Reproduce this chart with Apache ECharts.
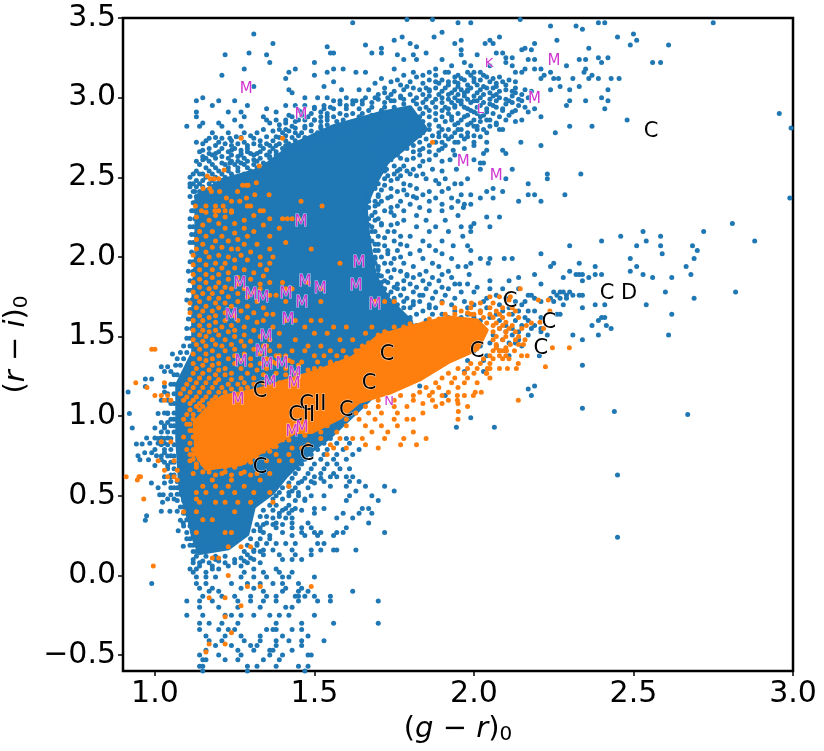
<!DOCTYPE html>
<html>
<head>
<meta charset="utf-8">
<script src="https://cdn.jsdelivr.net/npm/echarts@6/dist/echarts.min.js"></script>
<style>
  html, body { margin: 0; padding: 0; background: #fff; }
  #chart { width: 824px; height: 751px; }
</style>
</head>
<body>
<div id="chart"></div>
<script>
const xTicks = [1.0, 1.5, 2.0, 2.5, 3.0];
const yTicks = [-0.5, 0.0, 0.5, 1.0, 1.5, 2.0, 2.5, 3.0, 3.5];

// the saturated parts of each cloud, too many stars to read one by one: outlines in data units
const blueCore = [[1.13,2.38],[1.21,2.48],[1.33,2.55],[1.43,2.70],[1.558,2.82],[1.70,2.90],[1.80,2.94],[1.85,2.80],[1.78,2.68],[1.73,2.60],[1.69,2.46],[1.66,2.32],[1.67,2.10],[1.69,1.88],[1.73,1.74],[1.80,1.60],[1.84,1.42],[1.549,0.87],[1.50,0.80],[1.41,0.62],[1.37,0.52],[1.31,0.43],[1.29,0.26],[1.23,0.17],[1.14,0.14],[1.12,0.24],[1.11,0.33],[1.08,0.54],[1.07,0.85],[1.07,1.20],[1.12,1.40],[1.12,1.73],[1.13,2.04]];
const orangeCore = [[1.13,0.76],[1.125,0.96],[1.16,1.04],[1.21,1.12],[1.33,1.17],[1.52,1.29],[1.62,1.37],[1.70,1.50],[1.80,1.56],[1.92,1.62],[2.01,1.60],[2.04,1.54],[2.01,1.42],[1.92,1.34],[1.83,1.23],[1.74,1.15],[1.64,1.09],[1.58,0.99],[1.49,0.90],[1.44,0.90],[1.36,0.81],[1.27,0.70],[1.16,0.67]];

// rows of [y, x, x, ...]
const blueTop = [
  [3.49,1.79,1.87,2.145],[3.47,1.62,1.95,1.99,2.39,2.41,2.75],[3.45,2.24,2.32],[3.43,2.34],[3.41,1.90],
  [3.40,1.31,2.50],[3.38,1.775,1.875,2.08,2.45],[3.36,1.75,1.96,2.05,2.26,2.51],[3.34,1.37,1.80,1.94,2.035,2.06,2.19],[3.33,1.66,2.49,2.61],
  [3.32,1.54,1.82],[3.31,1.71,2.16,2.36],[3.30,1.96,2.15,2.18],[3.28,1.295,1.55,1.56,1.68,1.71,1.85,2.07,2.09],[3.27,1.22,1.35,1.76,1.81,1.96,2.01],
  [3.25,2.10,2.12,2.39,2.42],[3.24,1.78,1.82,1.90,2.17,2.19,2.33,2.35],[3.22,1.36,1.50,1.97,2.10,2.40,2.56,2.585],[3.20,1.93,1.99,2.05,2.12,2.29],
  [3.18,1.28,1.44,1.56,1.59,1.75,1.88,2.16,2.19,2.21,2.35],[3.16,1.42,1.54,1.63,1.66,1.81,1.91,1.98,2.02,2.13,2.15,2.24,2.345],[3.14,1.21,1.50,1.84,1.95,2.03,2.22,2.37],
  [3.12,1.41,1.71,1.96,2.00,2.06,2.21,2.25,2.265,2.31,2.36,2.39,2.43,2.455],[3.10,1.56,1.74,1.88,1.92,2.09,2.13],[3.07,1.31,1.53,1.79,1.95,2.03,2.07,2.27,2.33],
  [3.05,1.42,1.585,1.64,1.67,1.86,1.98,2.10,2.16,2.24,2.30,2.42],[3.03,1.43,1.72,1.93,1.97,2.01,2.05,2.13],[3.00,1.15,1.47,1.51,1.54,1.69,1.77,2.08,2.17,2.40],
  [2.98,1.13,1.20,1.25,1.58,1.62,1.65,1.74,1.96,2.00,2.11,2.15,2.30,2.35,2.42],[2.95,1.18,1.29,1.41,1.44,1.47,1.53,1.60,1.94,2.02,2.06,2.14,2.29],[2.93,1.35,1.50,1.56,1.92,1.98,2.09,2.19,2.41],
  [2.91,1.13,1.23,1.27,1.38,1.52,1.46,2.00,2.04,2.12,2.17],[2.88,1.13,1.28,1.34,1.43,1.48,1.54,1.93,1.97,2.02,2.21],[2.86,1.25,1.35,1.38,1.45,1.50,2.05,2.10,2.15,2.48],
  [2.84,1.15,1.20,1.41,1.36,1.95,1.99,2.07],[2.82,1.10,1.14,1.21,1.27,1.43,1.47,2.01,2.30,2.37],[2.80,1.34,1.41,1.39,1.90,1.95,2.03,2.09],
  [2.78,1.18,1.32,1.44,2.255],[2.755,1.255,1.35,1.38,1.89,1.93,1.98,2.02],[2.745,1.17,1.21,1.235,1.31],[2.72,1.13,1.20,1.28,1.90,1.94,2.04,2.147],
  [2.70,1.29,1.33,1.36,2.00,2.21],[2.67,1.24,1.15,1.27,1.76,1.83,1.89,1.935,2.04,2.09],[2.65,1.17,1.19,1.27,1.30,1.32,2.03,2.10],
  [2.63,1.15,1.21,1.26,1.36],[2.61,1.15,1.31,1.705,1.74,1.79,1.86,1.925,2.00],[2.59,1.21,1.235,1.27,1.34,2.02,2.03],
  [2.55,1.695,1.726,1.768,1.81,1.87,1.945,2.02,2.12],[2.52,1.12,1.15,1.75,1.80,1.84,2.23,2.335],[2.49,1.72,1.76,1.85,1.91,1.98,2.10,2.23],
  [2.46,1.11,1.70,1.78,1.89,1.94,1.96,2.17],[2.43,1.69,1.74,1.82,1.92,2.06],[2.41,1.125,1.76,1.86,1.90,2.04,2.09],[2.39,1.70,1.79,1.84,1.96,1.99,2.17,2.19,2.285],
  [2.37,1.73,1.82,1.88,1.93,2.02,2.06,2.99],[2.35,1.67,1.77,1.86,1.95,2.14,2.21],[2.33,1.70,1.80,1.90,1.97,1.99],[2.31,1.67,1.74,1.83,1.93,1.967]
];
const blueMiddle = [
  [2.90,2.957],[2.81,2.994],
  [2.29,1.72,1.78,1.86,1.90],[2.26,1.68,1.75,1.82,1.95],[2.25,2.04,2.08],[2.23,1.69,1.78,1.85,1.91],[2.21,1.71,1.76,2.00,2.81],[2.19,1.68,1.82,1.88,1.96,1.99,2.05],
  [2.16,1.73,1.86,1.92,1.99,2.53,2.72],[2.13,1.70,1.77,1.80,1.965,2.46,2.585],[2.10,1.68,1.75,1.84,1.90,2.40,2.54,2.88],[2.07,1.72,1.79,1.86,1.935,1.98,2.30,2.51,2.585,2.685],
  [2.04,1.70,1.76,1.83,1.88,1.99,2.70],[2.02,1.73,1.80,1.90,2.21,2.59],[1.99,1.69,1.75,1.84,1.93,2.02,2.05,2.095,2.12,2.49,2.69],[1.96,1.72,1.78,1.87,2.045,1.99,2.25,2.33],
  [1.94,1.70,1.81,1.89,1.95,1.975,2.24,2.38,2.51,2.665],[1.91,1.73,1.77,1.85,1.92,2.30,2.49],[1.89,1.70,1.79,1.83,1.90,1.985,2.19,2.32,2.33,2.34,2.38,2.40,2.53,2.68],
  [1.87,1.74,1.81,1.87,1.93,2.14,2.28,2.36,2.56,2.62],[1.85,1.72,1.78,1.84,1.89,2.05,2.11,2.34],[1.83,1.76,1.80,1.86,1.94,1.955,1.98,2.21],[1.81,1.71,1.75,1.82,1.90,2.01],
  [1.80,1.78,1.85,1.92,2.05,2.09,2.14],[1.78,1.74,1.81,1.88,1.96,2.00,2.25,2.27,2.28,2.30,2.60,2.82],[1.76,1.77,1.84,1.91,2.07,2.17,2.18,2.26,2.29,2.31,2.33,2.34],
  [1.74,1.75,1.79,1.87,1.94,2.04,2.10,2.19,2.24,2.27,2.29,2.69],[1.72,1.78,1.83,1.90,1.97,2.03,2.13,2.16,2.21,2.25],[1.70,1.76,1.81,1.86,1.93,2.00,2.08,2.15,2.28,2.38,2.41,2.54],
  [1.68,1.80,1.88,1.98,2.04,2.11,2.34],[1.66,1.84,1.94,2.02,2.09,2.14,2.17,2.19],[1.64,1.90,1.98,2.07,2.12,2.26,2.27,2.62],[1.62,1.96,2.05,2.16,2.21,2.40,2.41],
  [1.60,2.02,2.08,2.13,2.17,2.39],[1.57,2.10,2.15,2.19,2.37,2.415],[1.55,2.08,2.12,2.18,2.21,2.43],[1.53,2.03,2.10,2.14,2.21],[1.51,2.06,2.12,2.17,2.23,2.31,2.39,2.61],
  [1.48,2.00,2.09,2.14,2.34],[1.46,2.05,2.11,2.13],[1.44,2.02,2.07,2.15],[1.41,2.00,2.08,2.10],[1.38,2.04,2.11,2.205],[1.35,1.98,2.03],[1.32,2.34],[1.28,1.97,2.03],
  [1.19,2.19,1.83],[1.17,2.17],[1.13,2.18,1.91],[1.05,2.34],[1.03,2.44],[1.01,2.67],[0.99,1.99],[0.93,1.945,2.064],[0.63,2.45],[0.24,2.45]
];
const blueLower = [
  [1.39,1.055],[1.31,1.02,1.04],[1.28,1.05,1.03],[1.233,0.99,0.97],[1.187,0.97,1.03],[1.152,0.916,1.03],[1.10,1.04,1.02],[1.016,0.92,1.01,1.04],[0.96,1.02,1.04],[0.926,0.929,1.00,1.03],
  [0.863,0.974,1.00,1.02,1.04],[0.83,0.984,1.01,1.03],[0.825,0.942,0.96],[0.77,0.968,0.99,1.03],[0.752,0.947,1.005,1.05],[0.727,0.953,0.98,1.02],[0.69,1.00,1.04],[0.62,1.03,1.05],
  [0.58,0.989,1.03],[0.55,1.01,1.05],[0.507,1.015,1.026,1.05],[0.48,1.04,1.06],[0.459,1.024],[0.403,1.02,1.047,1.07],[0.375,0.974],[0.346,0.97,1.08],[0.33,1.089],[0.281,1.073],[0.183,1.089],
  [0.62,1.60,1.62,1.50,1.55,1.57],[0.59,1.46,1.49,1.53,1.61,1.64],[0.56,1.42,1.55,1.60,1.66,1.72],[0.53,1.43,1.63,1.75],[0.50,1.38,1.42,1.45,1.49,1.53,1.68,1.61],[0.47,1.44,1.47,1.60,1.70],
  [0.42,1.41,1.44,1.50,1.53,1.65,1.67],[0.39,1.39,1.42,1.50,1.64,1.68,1.59],[0.36,1.37,1.41,1.43,1.57,1.62],[0.33,1.35,1.38,1.48,1.43,1.67],[0.30,1.33,1.38,1.49,1.43,1.46,1.60],[0.27,1.34,1.40,1.50,1.46,1.52,1.57,1.59,1.72],
  [0.25,1.36,1.43,1.47,1.51,1.56],[0.20,1.32,1.35,1.38,1.41,1.44,1.51,1.53],[0.16,1.31,1.34,1.37,1.43,1.49,1.56,1.52,1.57,1.63],[0.13,1.29,1.34,1.39,1.44,1.49],[0.10,1.12,1.19,1.25,1.31,1.40,1.43,1.46],
  [0.08,1.12,1.14,1.17,1.22,1.25,1.29,1.33],[0.04,1.11,1.13,1.18,1.20,1.31,1.38],[0.02,1.12,1.16,1.28,1.34,1.39,1.43],[-0.01,1.13,1.16,1.19,1.27,1.31,1.35,1.50,1.42,1.40],[-0.05,1.13,1.16,1.24,1.29,1.33,1.37,1.40,1.45,0.99],
  [-0.08,1.14,1.18,1.27,1.31,1.41,1.46],[-0.10,1.17,1.20,1.34,1.40,1.45,1.48,1.62],[-0.13,1.15,1.21,1.25,1.30,1.35,1.38,1.44,1.47,1.50,1.55,1.45],[-0.16,1.10,1.14,1.18,1.26,1.30,1.34,1.38,1.45,1.51,1.55,1.70],
  [-0.20,1.14,1.20,1.26,1.33,1.43,1.41],[-0.25,1.10,1.15,1.22,1.24,1.27,1.31,1.36,1.39,1.42,1.50],[-0.30,1.14,1.17,1.21,1.26,1.38,1.46,1.56,1.70],[-0.34,1.14,1.20,1.23,1.25,1.35,1.43,1.38,1.37,1.46],
  [-0.38,1.16,1.22,1.27,1.33,1.40,1.48],[-0.41,1.17,1.21,1.28,1.33,1.38,1.42,1.46,1.53],[-0.44,1.19,1.24,1.30,1.32,1.38,1.46],[-0.47,1.16,1.26,1.31,1.43,1.36,1.37],[-0.50,1.14,1.20,1.27,1.36,1.40,1.48,1.49],
  [-0.53,1.15,1.16,1.22,1.26,1.34,1.39],[-0.57,1.14,1.15,1.29,1.32,1.38,1.45,1.48],[-0.60,1.15,1.29,1.47]
];
// the crowded edges of the upper cloud
const blueShoulder = [
  [2.81,1.44,1.47,1.52,1.56],[2.79,1.37,1.42,1.49,1.53,1.58],[2.78,1.23,1.28,1.40,1.46,1.51,1.55,1.60],[2.76,1.30,1.41,1.45,1.50,1.56],[2.75,1.19,1.27,1.39,1.43,1.47,1.53,1.55],
  [2.73,1.16,1.24,1.33,1.37,1.41,1.44,1.50],[2.71,1.15,1.22,1.26,1.31,1.35,1.39,1.42,1.47],[2.70,1.19,1.24,1.38,1.41,1.45],[2.68,1.17,1.21,1.25,1.29,1.34,1.37,1.40],[2.66,1.14,1.20,1.23,1.29,1.33,1.36,1.38,1.41],
  [2.64,1.18,1.24,1.27,1.31,1.35,1.38],[2.62,1.16,1.19,1.23,1.28,1.33,1.36,1.39],[2.60,1.13,1.17,1.24,1.26,1.29,1.32,1.37],[2.58,1.14,1.18,1.22,1.25,1.28,1.31,1.35],[2.56,1.16,1.19,1.23,1.26,1.29,1.32],
  [2.54,1.13,1.17,1.20,1.23,1.26,1.30,1.33],[2.52,1.14,1.18,1.21,1.24,1.28,1.31],[2.50,1.11,1.16,1.19,1.22,1.25,1.28],[2.48,1.13,1.15,1.18,1.21,1.23,1.26],[2.46,1.12,1.14,1.17,1.19,1.22],
  [2.44,1.11,1.13,1.15,1.18,1.20],[2.41,1.12,1.14,1.16],[2.38,1.11,1.13],[2.34,1.12,1.125],[2.29,1.115,1.12],[2.24,1.11,1.125],[2.19,1.12,1.11],[2.14,1.115,1.125],[2.09,1.11,1.12],[2.03,1.115],[1.97,1.11,1.12],[1.91,1.105,1.12],[1.85,1.11,1.12],[1.79,1.105,1.115],[1.73,1.10,1.115],[1.67,1.11],[1.61,1.105,1.115],[1.55,1.10,1.115],[1.49,1.10,1.11],[1.44,1.09,1.11],[1.40,1.08,1.10],[1.36,1.07,1.09],[1.32,1.065,1.08],[1.26,1.06,1.07]
];
const blueArm = [
  [3.16,1.86,1.92,2.00],[3.14,1.78,1.88,1.99],[3.13,1.82,1.94,2.04,2.08],[3.11,1.76,1.86,1.90,1.97,2.02,2.11],[3.10,1.80,1.94,2.00,2.05],[3.09,1.69,1.84,1.89,1.95,2.07],[3.08,1.77,1.92,1.98,2.01,2.10],
  [3.06,1.72,1.81,1.85,1.88,1.91,1.99,2.04,2.06,2.13],[3.05,1.78,1.83,1.94,1.96,2.02],[3.04,1.75,1.86,1.90,1.98,2.08,2.12,2.18],[3.02,1.70,1.74,1.80,1.84,1.89,1.92,1.95,2.03,2.07,2.15],[3.01,1.77,1.86,1.97,2.00,2.06,2.12],
  [3.00,1.60,1.66,1.73,1.82,1.90,1.94,2.02],[2.99,1.70,1.78,1.85,1.88,1.92,1.98,2.05,2.10,2.14],[2.98,1.56,1.63,1.75,1.81,1.95,2.01,2.07],[2.97,1.68,1.72,1.84,1.87,1.90,1.93,1.99,2.03,2.12],
  [2.96,1.58,1.62,1.65,1.78,1.82,1.96,2.05,2.10],[2.94,1.50,1.55,1.68,1.72,1.75,1.85,1.88,1.91,1.94,1.97,2.01,2.07,2.16],[2.93,1.53,1.60,1.64,1.79,1.83,2.04],[2.92,1.45,1.67,1.71,1.75,1.86,1.90,1.99,2.09,2.13],
  [2.90,1.49,1.54,1.58,1.62,1.65,1.84,1.88,1.92,1.95,2.01,2.06],[2.89,1.42,1.46,1.60,1.68,1.74,1.79,1.98,2.03,2.11],[2.88,1.52,1.56,1.64,1.71,1.83,1.86,1.90,2.08],[2.86,1.41,1.47,1.50,1.54,1.59,1.66,1.82,1.88,1.93,1.96,2.00,2.04],
  [2.85,1.44,1.52,1.57,1.62,1.84,1.91,2.02,2.13],[2.83,1.39,1.49,1.54,1.81,1.86,1.94,1.98,2.07],[2.82,1.52,1.80,1.84,1.89,2.00,2.05],[2.80,1.78,1.82,1.86,1.92,1.96,2.01,2.08],
  [2.78,1.76,1.80,1.84,1.89,1.94,1.98,2.04],[2.76,1.74,1.78,1.83,1.87,1.91,1.96,2.00],[2.74,1.72,1.76,1.80,1.85,1.92,1.97],[2.72,1.70,1.75,1.79,1.83,1.88,1.95,2.00],[2.70,1.69,1.73,1.77,1.81,1.86,1.91],
  [2.68,1.72,1.79,1.84,1.90,1.97],[2.66,1.74,1.81,1.86],[2.64,1.71,1.76,1.83,1.88,1.94],[2.62,1.72,1.77,1.81],[2.60,1.73,1.84,1.90],
  [2.57,1.71,1.75,1.78,1.83],[2.54,1.72,1.76,1.79,1.90],[2.51,1.70,1.73,1.77,1.82],[2.48,1.69,1.74,1.88],[2.45,1.69,1.72,1.80],[2.42,1.67,1.71,1.78],[2.38,1.67,1.70,1.74,1.81],[2.35,1.66,1.69,1.71],
  [2.32,1.66,1.69,1.76],[2.28,1.66,1.69,1.74],[2.24,1.67,1.70],[2.20,1.67,1.71,1.74],[2.16,1.68,1.69,1.75],[2.12,1.67,1.72],[2.08,1.69,1.70,1.77],[2.04,1.69,1.73],[2.00,1.69,1.71,1.77],[1.96,1.69,1.74],[1.92,1.70,1.75],[1.88,1.70,1.71,1.79],[1.84,1.71,1.73],[1.80,1.72,1.76],[1.76,1.73,1.83],[1.72,1.75,1.81],[1.68,1.74,1.78,1.86],[1.64,1.77,1.82,1.87],[1.60,1.80,1.85,1.91,1.97],[1.57,1.82,1.88,1.93,2.01],[1.54,1.96,2.02],[1.62,1.80,1.92,2.00]
];
const blueBase = [
  [1.20,1.05,1.06],[1.14,1.04,1.06],[1.08,1.05,1.06],[1.02,1.04,1.06,1.03],[0.98,1.05,1.06],[0.94,1.03,1.05,1.06],[0.90,1.02,1.04,1.06],[0.86,1.01,1.03,1.05],[0.82,1.02,1.04,1.06],[0.79,1.00,1.03,1.05],[0.75,1.02,1.04,1.06],[0.71,1.03,1.05,1.06],[0.67,1.04,1.06],[0.63,1.05,1.06],[0.59,1.05,1.07],[0.55,1.06,1.07],[0.51,1.07,1.08],[0.47,1.07,1.09],[0.43,1.08,1.09],[0.39,1.09,1.10],[0.35,1.10,1.11],[0.31,1.09,1.11],[0.27,1.10,1.12],[0.23,1.11,1.10],[0.19,1.12,1.11],[0.15,1.12,1.13],[0.12,1.13,1.16,1.19,1.22],
  [0.09,1.15,1.20,1.28],[0.06,1.14,1.18,1.23,1.27],[0.11,1.27,1.30],[0.15,1.28,1.31,1.33],[0.19,1.29,1.32],[0.23,1.30,1.33,1.36],[0.28,1.31,1.33],[0.32,1.32,1.34,1.37,1.40],[0.37,1.33,1.35,1.39],[0.41,1.34,1.37,1.40,1.43,1.46],[0.44,1.36,1.38,1.42],[0.48,1.37,1.40,1.47],[0.52,1.39,1.42,1.45],[0.55,1.40,1.44,1.48],[0.58,1.42,1.45,1.50],[0.61,1.43,1.47,1.52],[0.64,1.44,1.48,1.52,1.56],[0.67,1.45,1.49,1.53,1.58,1.61],[0.70,1.46,1.50,1.54,1.57],[0.73,1.47,1.52,1.56,1.60],[0.76,1.49,1.53,1.57,1.62],[0.79,1.51,1.54,1.59,1.64],[0.83,1.53,1.57,1.61],[0.86,1.55,1.60]
];

const orangeLeft = [
  [2.745,1.27,1.40],[2.72,1.87],[2.57,1.327],[2.546,1.217],[2.508,1.164],[2.49,1.186,1.20,1.174],[2.466,1.318],[2.45,1.292,1.275,1.287],[2.43,1.172,1.151],[2.41,1.259,1.177,1.203],[2.39,1.358,1.313],
  [2.37,1.224,1.287],[2.35,1.458,1.266,1.24],[2.32,1.524,1.214,1.19,1.16,1.127,1.29,1.30],[2.29,1.146,1.188,1.20,1.22,1.24,1.34,1.33],[2.24,1.36,1.40,1.415,1.43,1.45],
  [2.18,1.39],[2.13,1.36],[2.09,1.41],[2.05,1.36,1.49],[2.00,1.33,1.37],[1.96,1.36,1.58],[1.92,1.35],[1.88,1.34],[1.84,1.36,1.40,1.48],[1.80,1.33,1.41,1.43,1.52],
  [1.76,1.36,1.38],[1.72,1.41,1.52,1.69,1.72,1.75],[1.68,1.34],[1.64,1.35,1.37],[1.60,1.34,1.41,1.44,1.49,1.52],[1.56,1.37,1.47,1.56,1.60,1.68],[1.52,1.39,1.50,1.54,1.66,1.73],[1.48,1.36,1.44,1.58,1.62,1.71],
  [1.44,1.35,1.39,1.48,1.52,1.65,1.68],[1.41,1.43,1.47,1.55,1.59,1.63,1.70],[1.38,1.38,1.41,1.50,1.53,1.57],[1.34,1.37,1.43,1.46,1.51,1.55]
];
const orangeCrowd = [
  [2.28,1.16,1.24],[2.26,1.19,1.31],[2.25,1.13,1.22],[2.23,1.17,1.28],[2.21,1.20,1.25],[2.20,1.15,1.34],[2.18,1.22,1.28],[2.16,1.14,1.18,1.31],[2.15,1.25],[2.13,1.21,1.16,1.29],[2.11,1.13,1.26],[2.10,1.19,1.23],[2.08,1.15,1.28,1.32],[2.06,1.21,1.18],[2.05,1.13,1.26,1.24],[2.03,1.16,1.30],[2.01,1.20,1.12,1.27],[2.00,1.23,1.17],[1.98,1.14,1.29,1.25],[1.96,1.19,1.22],[1.95,1.16,1.33,1.12],[1.93,1.25,1.21],[1.92,1.14,1.18,1.28],[1.90,1.23,1.31],[1.89,1.12,1.16,1.20],[1.87,1.26,1.18],[1.86,1.14,1.23,1.30],[1.84,1.16,1.20,1.12],[1.83,1.26,1.33],[1.81,1.14,1.19,1.22],[1.80,1.17,1.28,1.24],[1.78,1.12,1.21,1.31],[1.77,1.15,1.26,1.18],[1.75,1.13,1.23,1.29],[1.74,1.17,1.20],[1.72,1.14,1.26,1.32],[1.71,1.11,1.19,1.22],[1.69,1.16,1.24,1.29],[1.68,1.13,1.20],[1.66,1.18,1.27,1.15],[1.65,1.22,1.31,1.11],[1.63,1.14,1.19,1.25],[1.62,1.17,1.29],[1.60,1.12,1.22,1.26,1.15],[1.59,1.19,1.32],[1.57,1.14,1.24,1.17],[1.56,1.21,1.28],[1.54,1.12,1.15,1.19,1.25,1.31],[1.53,1.23,1.17],[1.51,1.14,1.20,1.28],[1.50,1.16,1.25,1.33],[1.48,1.12,1.22,1.18],[1.47,1.15,1.27,1.30],[1.45,1.19,1.24,1.13],[1.44,1.16,1.21,1.34,1.28],[1.42,1.14,1.25,1.31],[1.41,1.18,1.22,1.36],[1.39,1.12,1.16,1.28,1.33],[1.38,1.20,1.25,1.39],[1.36,1.14,1.18,1.23,1.30,1.35],[1.35,1.16,1.27,1.42],[1.33,1.12,1.20,1.25,1.33,1.38],[1.32,1.15,1.18,1.30,1.45],[1.30,1.13,1.22,1.27,1.35,1.41],[1.29,1.17,1.20,1.32,1.48],[1.27,1.12,1.15,1.24,1.29,1.38,1.44],[1.26,1.19,1.22,1.34,1.41],[1.24,1.14,1.17,1.27,1.31,1.37,1.47],[1.23,1.11,1.20,1.24,1.43],[1.21,1.13,1.16,1.19,1.28,1.34,1.39],[1.20,1.10,1.23,1.26,1.31],[1.18,1.12,1.15,1.18,1.21,1.29,1.36],[1.17,1.09,1.24,1.27],[1.15,1.11,1.14,1.17,1.20,1.22,1.30],[1.14,1.08,1.25],[1.12,1.10,1.13,1.16,1.19],[1.10,1.12,1.15,1.18,1.09],[1.08,1.11,1.14,1.17],[1.06,1.13,1.15],[1.04,1.11,1.14],[1.01,1.12,1.10],[0.98,1.09,1.12],[0.95,1.11,1.10],[0.91,1.11,1.12],[0.87,1.09,1.12],[0.83,1.11,1.13],[0.79,1.10,1.12],[0.76,1.12,1.11],[0.73,1.12,1.14],[0.70,1.13,1.15,1.19],[0.68,1.13,1.18,1.22,1.25],[0.65,1.15,1.17,1.22,1.28],[0.63,1.19,1.24,1.30],
  [0.71,1.30,1.28],[0.74,1.32,1.30],[0.78,1.34,1.36],[0.81,1.38,1.37],[0.85,1.40,1.42],[0.88,1.42,1.47],[1.30,1.50,1.52],[1.33,1.55,1.57],[1.37,1.60,1.64],[1.41,1.64,1.67],[1.46,1.67,1.70],[1.51,1.70,1.73],[1.53,1.72,1.76],[1.56,1.75,1.78],[1.58,1.80,1.84],[1.61,1.86,1.89],[1.64,1.91,1.94,1.99],[1.65,1.98,2.02]
];
const orangeFar = [
  [1.42,0.99,1.00],[1.21,0.94,1.03],[1.18,0.975],[1.13,1.00,1.02,1.04],[1.10,1.05,1.03],[0.84,1.02,1.05],[0.72,1.01,1.06],[0.66,1.03,1.07],[0.62,0.91,0.955,0.95,1.04,1.06],[0.60,0.945,1.07],[0.48,0.965,1.13],
  [0.40,1.09,1.13,1.25],[0.35,1.15,1.18],[0.06,0.995],[0.00,1.23],[0.11,1.18,1.20],[0.18,1.23,1.27,1.30],[0.27,1.13,1.22,1.24],[-0.07,1.29,1.33,1.49],[-0.14,1.17,1.22],[-0.19,1.27],[-0.26,1.22],
  [-0.36,1.24],[-0.43,1.22,1.17],[-0.48,1.16],[0.46,1.14,1.19,1.22,1.26,1.30,1.37],[0.52,1.13,1.16,1.21,1.25,1.31,1.36],[0.56,1.15,1.19,1.23,1.28,1.42],[0.60,1.18,1.24,1.33],[0.64,1.12,1.21,1.27,1.32,1.36],
  [0.72,1.11,1.35,1.39,1.43],[0.76,1.38,1.42,1.54],[0.80,1.43,1.46,1.56,1.60,1.70],[0.82,1.48,1.55,1.66,1.77,1.82],[0.86,1.52,1.58,1.62,1.65,1.72,1.78,1.85],[0.90,1.52,1.57,1.68,1.73,1.81],[0.94,1.54,1.60,1.66,1.71,1.76],
  [0.98,1.60,1.64,1.69,1.75,1.79,1.81,1.95],[1.02,1.63,1.67,1.71,1.76,1.84],[1.03,1.951],[1.06,1.66,1.70,1.75,1.79,1.88,1.98],[1.08,1.84,1.90,1.95],[1.10,1.70,1.75,1.81,1.87,1.92,1.948,2.139],
  [1.13,1.77,1.81,1.86,1.90,1.97,1.948,1.998],[1.15,1.83,1.87,1.92,2.004,2.023],[1.18,1.85,1.89,1.95],[1.21,1.88,1.93,1.97,2.01],[1.24,1.90,1.94,1.98,2.05],[1.27,1.92,1.97,2.00,2.039,2.04],[1.30,1.95,1.98,2.01,2.05,2.08,2.105,2.133,2.042],
  [1.31,2.224],[1.33,1.99,2.02,2.05,2.139],[1.36,2.03,2.06,2.09,2.11],[1.38,2.05,2.08,2.167,2.149,2.10],[1.41,2.06,2.09,2.127,2.102,2.08],[1.43,2.246,2.299,2.07,2.10],[1.45,2.07,2.114,2.155,2.14],
  [1.48,2.06,2.09,2.13,2.16],[1.50,2.07,2.10,2.14],[1.53,2.06,2.10,2.13],[1.55,2.08,2.11,2.15,2.218],[1.57,2.06,2.09,2.12,2.164],[1.585,2.04,2.07,2.18],[1.59,2.207,2.10],[1.62,2.03,2.06,2.09,2.14],
  [1.64,2.00,2.05,2.08,2.11],[1.66,1.96,2.02,2.07,2.13,2.238],[1.68,1.94,1.99,2.05,2.09,2.12],[1.71,1.992,2.02,2.06,1.90],[1.73,2.233,2.202,2.11],[1.75,2.114,2.05,2.08],[1.80,2.145]
];

// spectral types written on the plot, [x, y, text]
const blackLabels = [[2.555,2.80,'C'],[2.113,1.73,'C'],[2.235,1.60,'C'],[2.21,1.44,'C'],[2.417,1.78,'C'],[2.486,1.78,'D'],[2.01,1.417,'C'],[1.728,1.40,'C'],[1.671,1.22,'C'],[1.60,1.05,'C'],[1.495,1.085,'CII'],[1.46,1.016,'CII'],[1.33,1.166,'C'],[1.477,0.77,'C'],[1.33,0.69,'C']];
const magentaLabels = [[1.286,3.067,'M'],[1.458,2.90,'M'],[2.251,3.243,'M'],[2.19,3.004,'M'],[1.966,2.61,'M'],[2.07,2.52,'M'],[1.458,2.233,'M'],[1.64,1.976,'M'],[1.267,1.84,'M'],[1.301,1.775,'M'],[1.339,1.756,'M'],[1.411,1.78,'M'],[1.47,1.856,'M'],[1.518,1.812,'M'],[1.63,1.83,'M'],[1.69,1.712,'M'],[1.461,1.725,'M'],[1.417,1.618,'M'],[1.239,1.643,'M'],[1.348,1.51,'M'],[1.333,1.417,'M'],[1.27,1.35,'M'],[1.351,1.336,'M'],[1.398,1.342,'M'],[1.439,1.279,'M'],[1.436,1.216,'M'],[1.361,1.223,'M'],[1.26,1.116,'M'],[1.43,0.915,'M'],[1.461,0.94,'M']];
const magentaSmall = [[2.047,3.224,'K'],[2.02,2.94,'L'],[1.734,1.104,'N']];

const BLUE = '#1f77b4';
const ORANGE = '#ff7f0e';
const FONT = '"DejaVu Sans"';

const fromRows = (rows) => rows.flatMap((row) => row.slice(1).map((x) => [x, row[0]]));

const cloudSeries = (outline, color, z) => ({
  type: 'custom',
  z,
  silent: true,
  clip: true,
  data: [0],
  renderItem: (params, api) => ({
    type: 'polygon',
    shape: { points: outline.map((p) => api.coord(p)) },
    style: { fill: color, stroke: color, lineWidth: 4, lineJoin: 'round' }
  })
});

const pointSeries = (rows, color, z) => ({
  type: 'scatter',
  z,
  silent: true,
  symbolSize: 5,
  itemStyle: { color, opacity: 1 },
  data: fromRows(rows)
});

const labelSeries = (data, color, size) => ({
  type: 'scatter',
  z: 10,
  silent: true,
  symbolSize: 0,
  itemStyle: { opacity: 1 },
  data,
  label: {
    show: true,
    position: 'inside',
    offset: [0, 2],
    formatter: (p) => p.value[2],
    color,
    opacity: 1,
    fontFamily: FONT,
    fontSize: size,
    textBorderColor: 'rgba(255,255,255,0.7)',
    textBorderWidth: 1
  }
});

const axisBase = {
  type: 'value',
  nameLocation: 'middle',
  splitLine: { show: false },
  axisLine: { show: false, onZero: false },
  axisTick: { length: 5, lineStyle: { color: '#000', width: 1.5 } }
};

const tickFormat = (v) => v.toFixed(1).replace('-', '\u2212');
const axisName = (a, b) => `{p|(}{i|${a}}{p| \u2212 }{i|${b}}{p|)}{s|0}`;
const nameRich = {
  p: { fontFamily: FONT, fontSize: 29, color: '#000' },
  i: { fontFamily: FONT, fontSize: 29, fontStyle: 'italic', color: '#000' },
  s: { fontFamily: FONT, fontSize: 20, color: '#000', verticalAlign: 'bottom', padding: [12, 0, 0, 0] }
};

const chart = echarts.init(document.getElementById('chart'), null, { renderer: 'canvas' });
chart.setOption({
  animation: false,
  backgroundColor: '#fff',
  grid: { left: 123, right: 31, top: 18, bottom: 80, show: true, borderColor: '#000', borderWidth: 2.5, backgroundColor: 'transparent', outerBoundsMode: 'none' },
  xAxis: {
    ...axisBase,
    min: 0.9,
    max: 3.0,
    name: axisName('g', 'r'),
    nameGap: 42,
    nameTextStyle: { rich: nameRich },
    axisTick: { ...axisBase.axisTick, customValues: xTicks },
    axisLabel: { customValues: xTicks, formatter: tickFormat, fontFamily: FONT, fontSize: 30, color: '#000', margin: 8, hideOverlap: false }
  },
  yAxis: {
    ...axisBase,
    min: -0.6,
    max: 3.5,
    name: axisName('r', 'i'),
    nameGap: 84,
    nameTextStyle: { rich: nameRich },
    axisTick: { ...axisBase.axisTick, customValues: yTicks },
    axisLabel: { customValues: yTicks, formatter: tickFormat, fontFamily: FONT, fontSize: 30, color: '#000', margin: 7, padding: [2, 0, 0, 0], hideOverlap: false }
  },
  series: [
    cloudSeries(blueCore, BLUE, 2),
    pointSeries(blueTop, BLUE, 2),
    pointSeries(blueMiddle, BLUE, 2),
    pointSeries(blueLower, BLUE, 2),
    pointSeries(blueShoulder, BLUE, 2),
    pointSeries(blueArm, BLUE, 2),
    pointSeries(blueBase, BLUE, 2),
    pointSeries(orangeLeft, ORANGE, 3),
    pointSeries(orangeCrowd, ORANGE, 3),
    cloudSeries(orangeCore, ORANGE, 3),
    pointSeries(orangeFar, ORANGE, 3),
    labelSeries(blackLabels, '#000', 21),
    labelSeries(magentaLabels, '#cf35cf', 15),
    labelSeries(magentaSmall, '#cf35cf', 13)
  ]
});
</script>
</body>
</html>
